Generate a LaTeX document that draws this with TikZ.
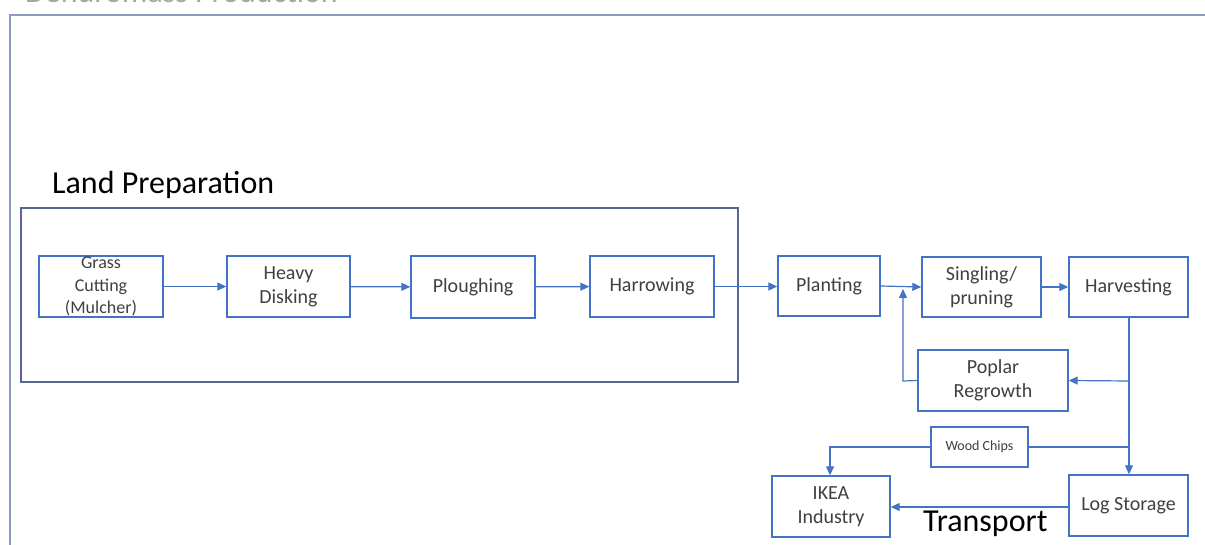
\documentclass[tikz,border=0pt]{standalone}
\usepackage{fontspec}
\setmainfont{Carlito}
\usetikzlibrary{arrows.meta}
\definecolor{boxblue}{HTML}{4472C4}
\definecolor{framegray}{HTML}{8A9CC2}
\definecolor{groupblue}{HTML}{546892}
\definecolor{labelgray}{HTML}{404040}
\begin{document}
\begin{tikzpicture}[x=1pt,y=-1pt,
  stage/.style={draw=boxblue,line width=1.4pt,fill=white,inner sep=0pt,
    align=center,text=labelgray,font=\fontsize{20}{24}\selectfont},
  flow/.style={draw=boxblue,line width=1.2pt,
    -{Triangle[length=9pt,width=8pt]}},
  link/.style={draw=boxblue,line width=1.2pt},
  heading/.style={anchor=base west,inner sep=0pt,font=\fontsize{32}{36}\selectfont}]
\clip (0,0) rectangle (1205,545);
\fill[white] (0,0) rectangle (1205,545);

% outer frame and its (cropped) title
\draw[framegray,line width=2pt] (10,560) -- (10,15) -- (1220,15);
\node[heading,text=gray!70] (title) at (25,3) {Dendromass Production};

% land preparation group
\node[heading] (lptitle) at (52,194) {Land Preparation};
\draw[groupblue,line width=2pt] (21,208) rectangle (738,382);

% process stages
\node[stage,minimum width=124pt,minimum height=61pt,font=\fontsize{18}{22.5}\selectfont]
  (grass) at (101,286.5) {Grass\\Cutting\\(Mulcher)};
\node[stage,minimum width=123pt,minimum height=61pt] (disk) at (288.5,286.5) {Heavy\\Disking};
\node[stage,minimum width=124pt,minimum height=62pt] (plough) at (473,287) {Ploughing};
\node[stage,minimum width=124pt,minimum height=61pt] (harrow) at (652,286.5) {Harrowing};
\node[stage,minimum width=102pt,minimum height=60pt] (plant) at (829,286) {Planting};
\node[stage,minimum width=119pt,minimum height=60pt] (single) at (981.5,287) {Singling/\\pruning};
\node[stage,minimum width=119pt,minimum height=60pt] (harvest) at (1128.5,287) {Harvesting};
\node[stage,minimum width=150pt,minimum height=61pt] (regrow) at (993,380.5) {Poplar\\Regrowth};
\node[stage,minimum width=97pt,minimum height=40pt,font=\fontsize{14}{16}\selectfont]
  (chips) at (979.5,447) {Wood Chips};
\node[stage,minimum width=118pt,minimum height=61pt] (ikea) at (831,506.5) {IKEA\\Industry};
\node[stage,minimum width=119pt,minimum height=61pt] (logs) at (1128.5,505.5) {Log Storage};
\node[heading] (transport) at (923,531) {Transport};

% junction points
\coordinate (hdown) at (1129,317);
\coordinate (jregrow) at (1129,381);
\coordinate (jchips) at (1129,447);
\coordinate (jback) at (903,381);
\coordinate (jup) at (903,289);
\coordinate (jikea) at (830,447);

% main chain
\draw[flow] (grass) -- (disk);
\draw[flow] (disk) -- (plough);
\draw[flow] (plough) -- (harrow);
\draw[flow] (harrow.east) -- (plant.west |- harrow.east);
\draw[flow] (plant.east) -- (single.west);
\draw[flow] (single) -- (harvest);

% harvest outflows
\draw[flow] (harvest.south -| hdown) -- (logs.north -| hdown);
\draw[flow] (jregrow) -- (regrow.east);
\draw[link] (jchips) -- (chips.east);
\draw[flow] (chips.west) -- (jikea) -- (ikea.north -| jikea);

% regrowth feeds back into the chain
\draw[flow] (regrow.west) -- (jback) -- (jup);

% transport to industry
\draw[flow] (logs.west |- 0,507) -- (ikea.east |- 0,507);
\end{tikzpicture}
\end{document}
